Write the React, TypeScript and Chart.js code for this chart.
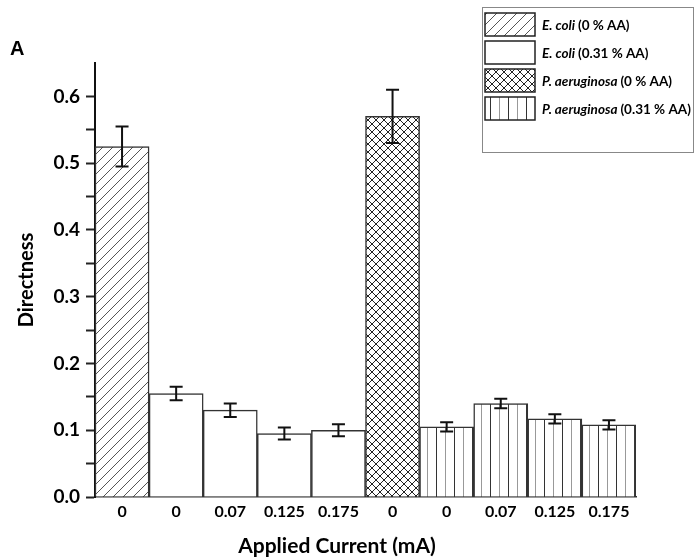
import React, { useEffect, useRef } from "react";
import { Chart, registerables } from "chart.js";

Chart.register(...registerables);

// Applied current for each bar (mA)
const categories = ["0", "0", "0.07", "0.125", "0.175", "0", "0", "0.07", "0.125", "0.175"];
// Mean directness per bar
const directness = [0.525, 0.155, 0.13, 0.095, 0.1, 0.57, 0.105, 0.14, 0.117, 0.108];
// Error (±) per bar
const errors = [0.03, 0.01, 0.01, 0.009, 0.009, 0.04, 0.007, 0.007, 0.007, 0.007];
// Which condition each bar belongs to (index into legend arrays)
const groupOfBar = [0, 1, 1, 1, 1, 2, 3, 3, 3, 3];

// Legend entries
const legendSpecies = ["E. coli", "E. coli", "P. aeruginosa", "P. aeruginosa"];
const legendConditions = ["(0 % AA)", "(0.31 % AA)", "(0 % AA)", "(0.31 % AA)"];

// Y-axis tick values
const yMajorTicks = [0, 0.1, 0.2, 0.3, 0.4, 0.5, 0.6];
const yMinorTicks = [0.05, 0.15, 0.25, 0.35, 0.45, 0.55];

const FONT = "Lato, 'Open Sans', sans-serif";

function makeTile(size: number, draw: (c: CanvasRenderingContext2D, s: number) => void) {
  const cv = document.createElement("canvas");
  cv.width = size;
  cv.height = size;
  const c = cv.getContext("2d")!;
  c.fillStyle = "#ffffff";
  c.fillRect(0, 0, size, size);
  draw(c, size);
  return cv;
}

function buildPatterns(ctx: CanvasRenderingContext2D) {
  // "/" hatching
  const diag = makeTile(10, (c, s) => {
    c.strokeStyle = "#555";
    c.lineWidth = 1;
    c.beginPath();
    c.moveTo(0, s);
    c.lineTo(s, 0);
    c.moveTo(-1, 1);
    c.lineTo(1, -1);
    c.moveTo(s - 1, s + 1);
    c.lineTo(s + 1, s - 1);
    c.stroke();
  });
  // plain white
  const plain = makeTile(4, () => {});
  // cross hatching
  const cross = makeTile(8, (c, s) => {
    c.strokeStyle = "#222";
    c.lineWidth = 1;
    c.beginPath();
    c.moveTo(0, s);
    c.lineTo(s, 0);
    c.moveTo(-1, 1);
    c.lineTo(1, -1);
    c.moveTo(s - 1, s + 1);
    c.lineTo(s + 1, s - 1);
    c.moveTo(0, 0);
    c.lineTo(s, s);
    c.moveTo(-1, s - 1);
    c.lineTo(1, s + 1);
    c.moveTo(s - 1, -1);
    c.lineTo(s + 1, 1);
    c.stroke();
  });
  // vertical lines
  const vert = makeTile(18, (c, s) => {
    c.lineWidth = 1;
    c.strokeStyle = "#333";
    c.beginPath();
    c.moveTo(4.5, 0);
    c.lineTo(4.5, s);
    c.stroke();
    c.strokeStyle = "#999";
    c.beginPath();
    c.moveTo(13.5, 0);
    c.lineTo(13.5, s);
    c.stroke();
  });
  return [diag, plain, cross, vert].map((t) => ctx.createPattern(t, "repeat")!);
}

export default function App() {
  const ref = useRef<HTMLCanvasElement | null>(null);

  useEffect(() => {
    const canvas = ref.current;
    if (!canvas) return;
    const ctx = canvas.getContext("2d")!;
    const patterns = buildPatterns(ctx);

    const errorBars = {
      id: "errorBars",
      afterDatasetsDraw(chart: any) {
        const meta = chart.getDatasetMeta(0);
        const y = chart.scales.y;
        const c = chart.ctx;
        c.save();
        c.strokeStyle = "#111";
        c.lineWidth = 2;
        meta.data.forEach((bar: any, i: number) => {
          const top = y.getPixelForValue(directness[i] + errors[i]);
          const bot = y.getPixelForValue(directness[i] - errors[i]);
          const x = bar.x;
          const cap = 6.5;
          c.beginPath();
          c.moveTo(x, top);
          c.lineTo(x, bot);
          c.moveTo(x - cap, top);
          c.lineTo(x + cap, top);
          c.moveTo(x - cap, bot);
          c.lineTo(x + cap, bot);
          c.stroke();
        });
        c.restore();
      },
    };

    const annotations = {
      id: "annotations",
      afterDraw(chart: any) {
        const c = chart.ctx;
        c.save();
        c.fillStyle = "#000";

        // panel letter
        c.font = "bold 20px 'Liberation Sans', Arial, sans-serif";
        c.textAlign = "left";
        c.textBaseline = "alphabetic";
        c.fillText("A", 10, 55);

        // axis titles
        c.font = `bold 21px ${FONT}`;
        c.textAlign = "center";
        c.fillText("Applied Current (mA)", 337, 553);

        c.save();
        c.translate(27, 280);
        c.rotate(-Math.PI / 2);
        c.font = `bold 20px ${FONT}`;
        c.textBaseline = "middle";
        c.fillText("Directness", 0, 0);
        c.restore();

        // legend box
        c.strokeStyle = "#888";
        c.lineWidth = 1;
        c.strokeRect(482.5, 7.5, 211, 145);

        const rowTops = [13, 41, 69, 97];
        legendSpecies.forEach((sp, i) => {
          const top = rowTops[i];
          c.fillStyle = patterns[i];
          c.fillRect(485, top, 50, 23);
          c.strokeStyle = "#222";
          c.lineWidth = 1.5;
          c.strokeRect(485, top, 50, 23);

          const cy = top + 12.5;
          c.fillStyle = "#000";
          c.textAlign = "left";
          c.textBaseline = "middle";
          c.font = `italic bold 13.5px ${FONT}`;
          c.fillText(sp, 542, cy);
          const w = c.measureText(sp + " ").width;
          c.font = `bold 13.5px ${FONT}`;
          c.fillText(legendConditions[i], 542 + w, cy);
        });
        c.restore();
      },
    };

    const yTicks = [...yMajorTicks, ...yMinorTicks].sort((a, b) => a - b);

    const chart = new Chart(canvas, {
      type: "bar",
      data: {
        labels: categories,
        datasets: [
          {
            data: directness,
            backgroundColor: groupOfBar.map((g) => patterns[g]),
            borderColor: "#333",
            borderWidth: 1.5,
            barPercentage: 1,
            categoryPercentage: 1,
          },
        ],
      },
      options: {
        responsive: false,
        animation: false,
        devicePixelRatio: 1,
        layout: { padding: { left: 0, right: 61, top: 63, bottom: 0 } },
        plugins: {
          legend: { display: false },
          tooltip: { enabled: false },
        },
        scales: {
          x: {
            afterFit: (s: any) => {
              s.height = 62;
            },
            ticks: {
              padding: 5,
              color: "#000",
              autoSkip: false,
              maxRotation: 0,
              font: { family: FONT, weight: "bold", size: 16 },
            },
            grid: { display: true, drawOnChartArea: false, drawTicks: false },
            border: { color: "#333", width: 1.5 },
          },
          y: {
            min: 0,
            max: 0.65,
            afterFit: (s: any) => {
              s.width = 95;
            },
            afterBuildTicks: (s: any) => {
              s.ticks = yTicks.map((v) => ({ value: v }));
            },
            ticks: {
              autoSkip: false,
              padding: 6,
              color: "#000",
              font: { family: FONT, weight: "bold", size: 19 },
              callback: (v: any) =>
                yMajorTicks.some((m) => Math.abs(m - v) < 1e-6) ? Number(v).toFixed(1) : "",
            },
            grid: { drawOnChartArea: false, tickLength: 9, tickWidth: 2, color: "#222" },
            border: { color: "#111", width: 2 },
          },
        },
      },
      plugins: [errorBars, annotations],
    });

    return () => chart.destroy();
  }, []);

  return (
    <div style={{ position: "absolute", left: 0, top: 0, width: 697, height: 559, background: "#fff" }}>
      <canvas ref={ref} width={697} height={559} style={{ display: "block" }} />
    </div>
  );
}
